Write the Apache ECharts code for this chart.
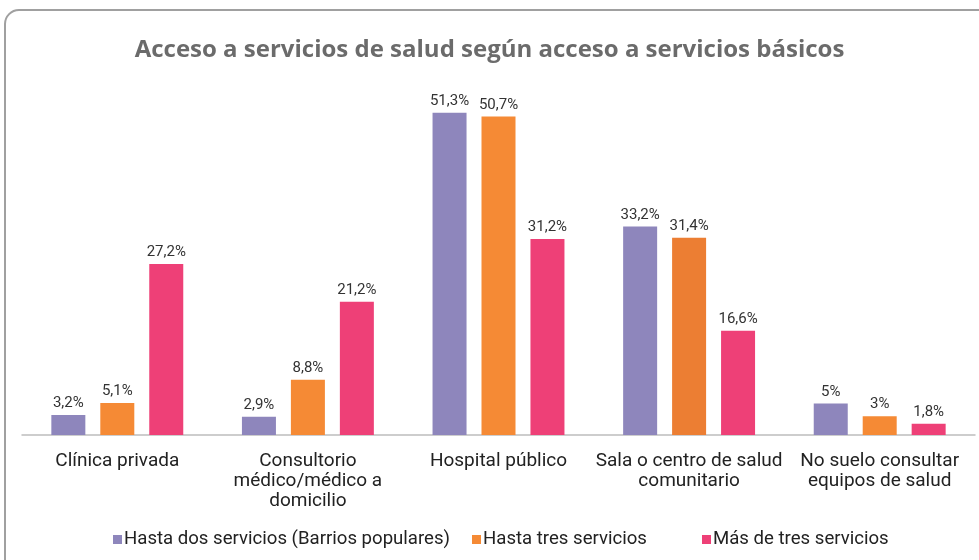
<!DOCTYPE html>
<html>
<head>
<meta charset="utf-8">
<script src="https://cdn.jsdelivr.net/npm/echarts@6/dist/echarts.min.js"></script>
<style>
  html, body { margin: 0; padding: 0; background: #fff; }
  #chart { width: 979px; height: 560px; }
</style>
</head>
<body>
<div id="chart"></div>
<script>
// datos
var categorias = ['Clínica privada', 'Consultorio\nmédico/médico a\ndomicilio', 'Hospital público', 'Sala o centro de salud\ncomunitario', 'No suelo consultar\nequipos de salud'];
var hastaDos = [3.2, 2.9, 51.3, 33.2, 5];
var hastaTres = [5.1, 8.8, 50.7, 31.4, 3];
var masDeTres = [27.2, 21.2, 31.2, 16.6, 1.8];
var nombres = ['Hasta dos servicios (Barrios populares)', 'Hasta tres servicios', 'Más de tres servicios'];

var chart = echarts.init(document.getElementById('chart'));

function etiqueta(p) {
  return String(p.value).replace('.', ',') + '%';
}

var labelComun = {
  show: true,
  position: 'top',
  distance: 4,
  fontFamily: 'Roboto',
  fontSize: 15,
  color: '#333',
  formatter: etiqueta
};

var option = {
  backgroundColor: '#fff',
  animation: false,
  title: {
    text: 'Acceso a servicios de salud según acceso a servicios básicos',
    left: 'center',
    top: 33,
    textStyle: {
      fontFamily: 'Open Sans',
      fontWeight: 'bold',
      fontSize: 24,
      color: '#6b6b6b'
    }
  },
  graphic: [{
    type: 'rect',
    shape: { x: 5, y: 10, width: 1000, height: 600, r: 14 },
    style: { fill: 'none', stroke: '#a0a0a0', lineWidth: 2 },
    z: 100
  }],
  legend: [
    { data: [nombres[0]], left: 108, top: 525 },
    { data: [nombres[1]], left: 467, top: 525 },
    { data: [nombres[2]], left: 697, top: 525 }
  ].map(function (l) {
    l.itemWidth = 9;
    l.itemHeight = 9;
    l.icon = 'rect';
    l.textStyle = { fontFamily: 'Roboto', fontSize: 18.6, color: '#222', padding: [0, 0, 0, -3] };
    return l;
  }),
  grid: { left: 22, right: 4, top: 58, bottom: 125 },
  xAxis: {
    type: 'category',
    data: categorias,
    axisTick: { show: false },
    axisLine: { lineStyle: { color: '#bdbdbd', width: 1.5 } },
    axisLabel: {
      fontFamily: 'Roboto',
      fontSize: 19,
      color: '#222',
      lineHeight: 20,
      margin: 16,
      interval: 0
    }
  },
  yAxis: {
    type: 'value',
    min: 0,
    max: 60,
    show: false,
    splitLine: { show: false }
  },
  series: [
    {
      name: nombres[0],
      type: 'bar',
      data: hastaDos,
      barWidth: 34,
      barGap: '44%',
      itemStyle: { color: '#8e86bc' },
      label: labelComun
    },
    {
      name: nombres[1],
      type: 'bar',
      data: hastaTres.map(function (v, i) {
        return i === 3 ? { value: v, itemStyle: { color: '#ec7e33' } } : v;
      }),
      barWidth: 34,
      itemStyle: { color: '#f58a35' },
      label: labelComun
    },
    {
      name: nombres[2],
      type: 'bar',
      data: masDeTres,
      barWidth: 34,
      itemStyle: { color: '#ee4077' },
      label: labelComun
    }
  ]
};

chart.setOption(option);
</script>
</body>
</html>
